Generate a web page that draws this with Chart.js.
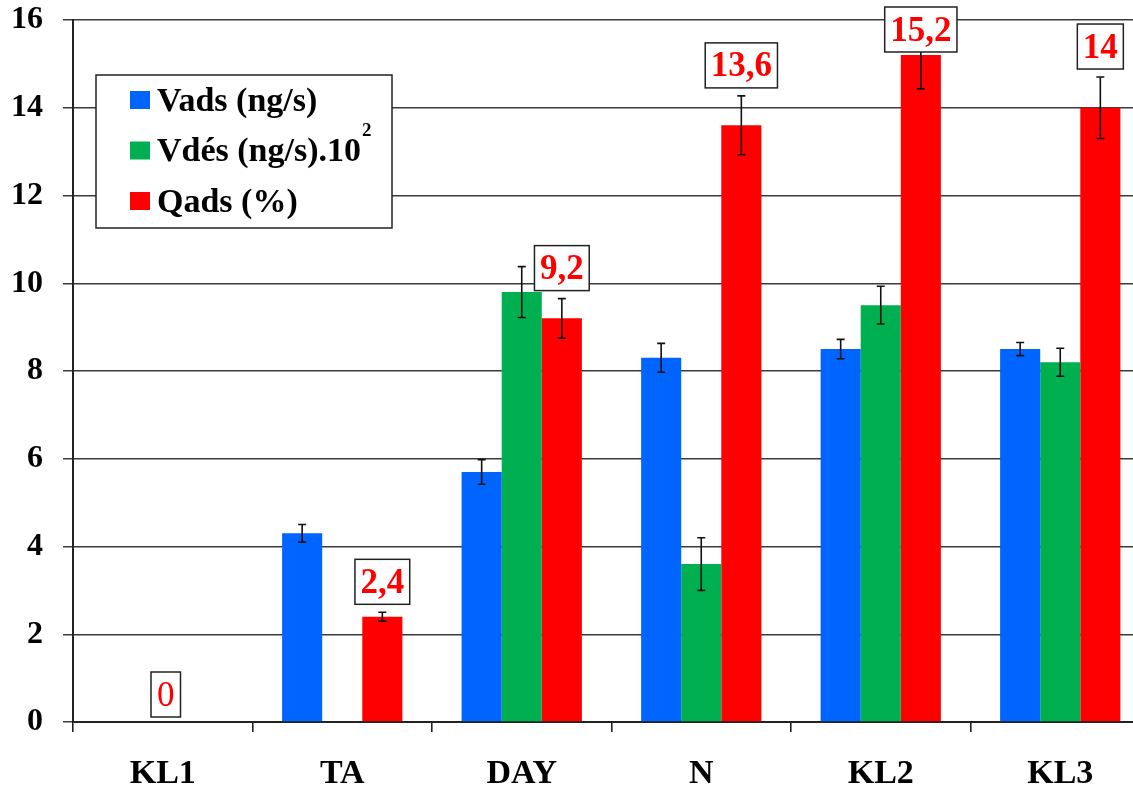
<!DOCTYPE html>
<html>
<head>
<meta charset="utf-8">
<script src="https://cdn.jsdelivr.net/npm/chart.js@4.4.0/dist/chart.umd.min.js"></script>
<style>
  html, body { margin: 0; padding: 0; background: #fff; overflow: hidden; }
  #wrap { position: relative; width: 1150px; height: 788px; }
</style>
</head>
<body>
<div id="wrap"><canvas id="chart"></canvas></div>
<script>
// ---- data ----
const categories = ['KL1', 'TA', 'DAY', 'N', 'KL2', 'KL3'];
const seriesNames = ['Vads (ng/s)', 'Vdés (ng/s).10', 'Qads (%)'];
const vads     = [null, 4.3, 5.7, 8.3, 8.5, 8.5];
const vadsErr  = [0, 0.2, 0.28, 0.33, 0.22, 0.15];
const vdes     = [null, null, 9.8, 3.6, 9.5, 8.2];
const vdesErr  = [0, 0, 0.58, 0.6, 0.43, 0.32];
const qads     = [0, 2.4, 9.2, 13.6, 15.2, 14];
const qadsErr  = [0, 0.1, 0.45, 0.67, 0.77, 0.7];
const qadsLabels = ['0', '2,4', '9,2', '13,6', '15,2', '14'];
const yMax = 16, yStep = 2;

const COLORS = ['#0064ff', '#00b050', '#ff0000'];
const SERIF = '"Liberation Serif", "Times New Roman", serif';

// error bars (whiskers with caps)
const errorBars = {
  id: 'errorBars',
  afterDatasetsDraw(chart) {
    const { ctx, scales: { y } } = chart;
    ctx.save();
    ctx.strokeStyle = '#111';
    ctx.lineWidth = 1.6;
    chart.data.datasets.forEach((ds, di) => {
      const meta = chart.getDatasetMeta(di);
      meta.data.forEach((bar, i) => {
        const v = ds.data[i], e = ds.err[i];
        if (v == null || !e) return;
        const top = y.getPixelForValue(v + e), bot = y.getPixelForValue(v - e);
        ctx.beginPath();
        ctx.moveTo(bar.x, top); ctx.lineTo(bar.x, bot);
        ctx.moveTo(bar.x - 4, top); ctx.lineTo(bar.x + 4, top);
        ctx.moveTo(bar.x - 4, bot); ctx.lineTo(bar.x + 4, bot);
        ctx.stroke();
      });
    });
    ctx.restore();
  }
};

// boxed red value labels on the Qads bars
const valueLabels = {
  id: 'valueLabels',
  afterDatasetsDraw(chart) {
    const { ctx, scales: { x, y } } = chart;
    const meta = chart.getDatasetMeta(2);
    ctx.save();
    qadsLabels.forEach((txt, i) => {
      const v = qads[i], e = qadsErr[i];
      const bold = v !== 0;
      ctx.font = (bold ? 'bold ' : '') + '35px ' + SERIF;
      const w = ctx.measureText(txt).width + (bold ? 11 : 12);
      const h = 45;
      const cx = v === 0 ? x.getPixelForValue(i) + 3 : meta.data[i].x;
      let bottom = y.getPixelForValue(v + e) - (v === 0 ? 5 : 8);
      let top = Math.max(7, bottom - h);
      ctx.fillStyle = '#fff';
      ctx.fillRect(cx - w / 2, top, w, h);
      ctx.strokeStyle = '#222';
      ctx.lineWidth = 1.5;
      ctx.strokeRect(cx - w / 2, top, w, h);
      ctx.fillStyle = '#ff0000';
      ctx.textAlign = 'center';
      ctx.textBaseline = 'middle';
      ctx.fillText(txt, cx, top + h / 2 + 2);
    });
    ctx.restore();
  }
};

// framed legend inside the plot
const boxLegend = {
  id: 'boxLegend',
  afterDatasetsDraw(chart) {
    const { ctx, chartArea } = chart;
    const left = chartArea.left + 23, top = chartArea.top + 55;
    const w = 296, h = 153;
    ctx.save();
    ctx.fillStyle = '#fff';
    ctx.fillRect(left, top, w, h);
    ctx.strokeStyle = '#222';
    ctx.lineWidth = 1.5;
    ctx.strokeRect(left, top, w, h);
    ctx.textBaseline = 'middle';
    ctx.textAlign = 'left';
    seriesNames.forEach((name, i) => {
      const cy = top + 25 + i * 50.5;
      ctx.fillStyle = COLORS[i];
      ctx.fillRect(left + 34, cy - 9, 20, 18);
      ctx.fillStyle = '#000';
      ctx.font = 'bold 34px ' + SERIF;
      ctx.fillText(name, left + 61, cy + 2);
      if (i === 1) {
        const tw = ctx.measureText(name).width;
        ctx.font = 'bold 19px ' + SERIF;
        ctx.fillText('2', left + 61 + tw + 1, cy - 19);
      }
    });
    ctx.restore();
  }
};

const mkSet = (label, data, err, color) => ({
  label, data, err,
  backgroundColor: color,
  borderWidth: 0,
  barPercentage: 1.0,
  categoryPercentage: 0.67
});

new Chart(document.getElementById('chart'), {
  type: 'bar',
  data: {
    labels: categories,
    datasets: [
      mkSet(seriesNames[0], vads, vadsErr, COLORS[0]),
      mkSet(seriesNames[1], vdes, vdesErr, COLORS[1]),
      mkSet(seriesNames[2], qads, qadsErr, COLORS[2])
    ]
  },
  options: {
    responsive: true,
    maintainAspectRatio: false,
    animation: false,
    layout: { padding: { top: 20, right: 0, left: 0, bottom: 0 } },
    plugins: { legend: { display: false }, tooltip: { enabled: false } },
    scales: {
      x: {
        grid: { drawOnChartArea: false, drawTicks: true, tickLength: 10, color: '#222', lineWidth: 1.6, offset: true },
        border: { color: '#222', width: 2 },
        ticks: { color: '#000', padding: 22, font: { family: SERIF, size: 34, weight: 'bold' } },
        afterFit(s) { s.height = 66; s.paddingLeft = 0; s.paddingRight = 0; }
      },
      y: {
        min: 0, max: yMax,
        grid: { color: '#3a3a3a', lineWidth: 1.5, tickLength: 10 },
        border: { color: '#222', width: 2 },
        ticks: { stepSize: yStep, color: '#000', padding: 20, font: { family: SERIF, size: 32, weight: 'bold' } },
        afterFit(s) { s.width = 73; s.paddingTop = 0; s.paddingBottom = 0; }
      }
    }
  },
  plugins: [errorBars, valueLabels, boxLegend]
});
</script>
</body>
</html>
